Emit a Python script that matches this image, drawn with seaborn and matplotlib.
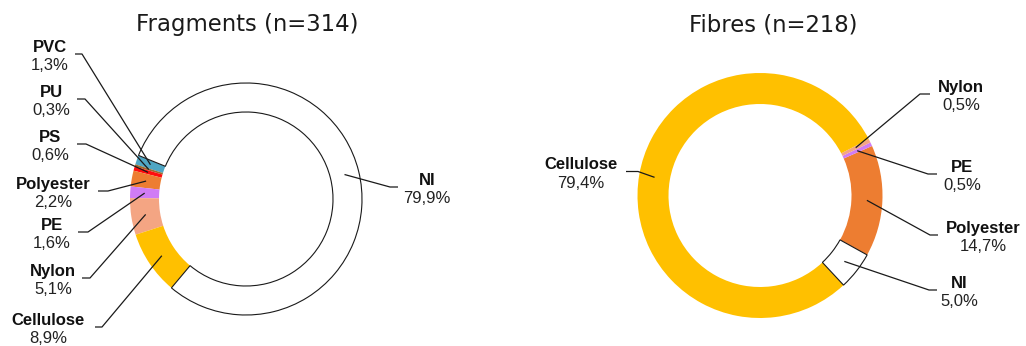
import matplotlib
matplotlib.use("Agg")
import numpy as np
import matplotlib.pyplot as plt
import seaborn as sns

# --- data -------------------------------------------------------------
frag_labels = ["NI", "PVC", "PU", "PS", "Polyester", "PE", "Nylon", "Cellulose"]
frag_values = [79.9, 1.3, 0.3, 0.6, 2.2, 1.6, 5.1, 8.9]

fibre_labels = ["NI", "Polyester", "PE", "Nylon", "Cellulose"]
fibre_values = [5.0, 14.7, 0.5, 0.5, 79.4]

titles = ["Fragments (n=314)", "Fibres (n=218)"]

# --- styling ----------------------------------------------------------
polymer_colors = {
    "NI": "#FFFFFF",
    "PVC": "#4FA6C4",
    "PU": "#9C6B30",
    "PS": "#FF0D0D",
    "Polyester": "#ED7D31",
    "PE": "#D07CF5",
    "Nylon": "#F4A583",
    "Cellulose": "#FFC000",
}

# label layout: text centre x, leader y, leader start x, elbow x
frag_label_layout = {
    "PVC": (50, 54, 75, 82),
    "PU": (51, 99, 77, 85),
    "PS": (50.5, 144, 77, 86),
    "Polyester": (53, 191, 98, 108),
    "PE": (52, 232, 78, 88),
    "Nylon": (53, 278, 82, 90),
    "Cellulose": (48, 327, 95, 102),
    "NI": (427, 187, 398, 390),
}
fibre_label_layout = {
    "Cellulose": (581, 171.5, 626, 638),
    "Nylon": (961, 94, 930, 920),
    "PE": (962, 174, 937, 928),
    "Polyester": (983.5, 235, 938, 930),
    "NI": (959.5, 290, 937, 929),
}

W, H = 1026, 346
sns.set_theme(style="white")
plt.rcParams["font.family"] = ["Liberation Sans", "DejaVu Sans"]

fig = plt.figure(figsize=(W / 100, H / 100), dpi=100)
ax = fig.add_axes([0, 0, 1, 1])


def fmt_pct(v):
    return f"{v:.1f}".replace(".", ",") + "%"


def donut(labels, values, center, r_out, r_in, start_screen, layout, title, title_x):
    cx, cy = center
    colors = [polymer_colors[l] for l in labels]
    # y axis runs downwards, so angles are mirrored: draw clockwise in data
    wedges, _ = ax.pie(
        values,
        colors=colors,
        radius=r_out,
        center=(cx, cy),
        startangle=-start_screen,
        counterclock=False,
        frame=True,
        wedgeprops=dict(width=r_out - r_in, linewidth=0),
    )
    r_mid = (r_out + r_in) / 2
    for lab, val, w in zip(labels, values, wedges):
        if lab == "NI":
            w.set_edgecolor("#1a1a1a")
            w.set_linewidth(0.8)
            w.set_zorder(3)
        else:
            w.set_zorder(2)
        theta = np.deg2rad((w.theta1 + w.theta2) / 2)
        ax_, ay_ = cx + r_mid * np.cos(theta), cy + r_mid * np.sin(theta)
        tx, ly, sx, ex = layout[lab]
        ax.plot([sx, ex, ax_], [ly, ly, ay_], color="#1a1a1a", lw=0.9,
                zorder=4, solid_capstyle="butt")
        ax.text(tx, ly - 2.3, lab, ha="center", va="baseline",
                fontsize=12, fontweight="bold", color="#111111")
        ax.text(tx, ly + 16.2, fmt_pct(val), ha="center", va="baseline",
                fontsize=12, color="#222222")
    ax.text(title_x, 31, title, ha="center", va="baseline",
            fontsize=16.4, family=["DejaVu Sans"], color="#1a1a1a")


donut(frag_labels, frag_values, (246, 199), 116, 87, 230, frag_label_layout,
      titles[0], 247)
donut(fibre_labels, fibre_values, (760, 195.5), 122.5, 91.5, -47, fibre_label_layout,
      titles[1], 773)

ax.set_xlim(0, W)
ax.set_ylim(H, 0)
ax.set_aspect("equal")
ax.axis("off")

fig.savefig("out.png", dpi=100, facecolor="white")
